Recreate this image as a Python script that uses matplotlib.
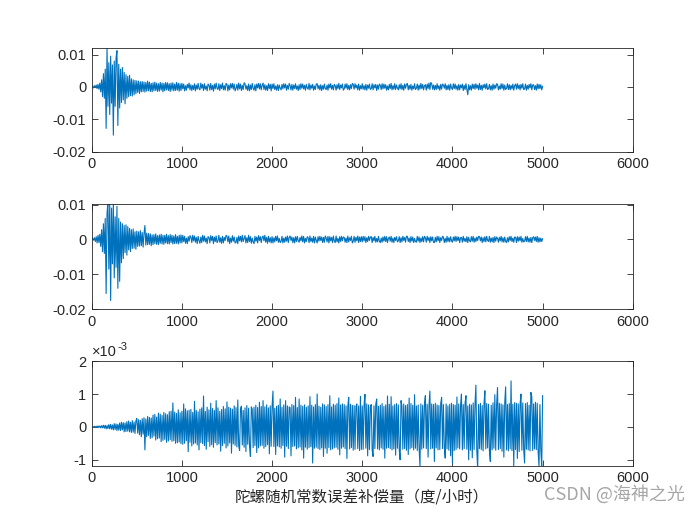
import numpy as np
import matplotlib
matplotlib.use("Agg")
import matplotlib.pyplot as plt

plt.rcParams['font.family'] = ['Liberation Sans', 'DejaVu Sans']
plt.rcParams['axes.unicode_minus'] = False

# signal values, one every 10 samples (0..5000)
# err1, err2 in units of 1e-4; err3 in units of 1e-5
err1 = [0, 2, -3, 4, -2, 6, -5, 8, -7, 12,
        -15, 22, -30, 41, -35, 55, -128, 121, -60, 75,
        -85, 95, -50, 68, -149, 80, -60, 90, 112, -119,
        70, -65, 55, -48, 60, -40, 45, -52, 38, -35,
        33, -30, 36, -27, 25, -28, 22, -24, 20, -21,
        19, -17, 18, -20, 16, -15, 17, -14, 15, -16,
        14, -13, 18, -12, 15, -14, 11, -15, 13, -12,
        15, -11, 12, -14, 10, -13, 14, -10, 12, -15,
        11, -12, 14, -9, 13, -11, 10, -14, 12, -10,
        13, -12, 9, -11, 14, -10, 12, -13, 10, -11,
        11, -6, 9, -12, 4, -10, 8, -3, 12, -9,
        7, -11, 5, -8, 10, -12, 6, -7, 11, -5,
        -9, 12, -4, 8, -11, 10, -7, 3, -12, 9,
        6, -10, 11, -8, 5, -13, 9, -6, 12, -4,
        -8, 10, -11, 7, -5, 12, -9, 4, -10, 11,
        8, -12, 6, -9, 10, -3, 11, -7, 9, -12,
        -5, 8, -10, 12, -6, 9, -11, 5, -8, 13,
        10, -7, 4, -11, 9, -12, 6, -8, 11, -4,
        -10, 7, -12, 9, -3, 11, -6, 10, -9, 5,
        12, -8, 7, -10, 4, -11, 10, -5, 8, -12,
        9, -5, 10, -8, 3, -10, 7, -11, 6, -4,
        -9, 8, -6, 10, -3, 9, -10, 5, -7, 11,
        4, -9, 8, -10, 6, -5, 10, -7, 3, -11,
        7, -8, 10, -4, 9, -6, 5, -10, 8, -3,
        -7, 11, -9, 6, -4, 8, -10, 3, -8, 9,
        10, -6, 5, -9, 7, -11, 4, -7, 9, -5,
        -8, 6, -10, 9, -3, 10, -7, 5, -9, 8,
        4, -10, 7, -5, 11, -8, 6, -3, 9, -10,
        -6, 9, -4, 10, -8, 5, -9, 7, -5, 11,
        8, -7, 10, -3, 6, -9, 9, -10, 4, -6,
        10, -7, 4, -9, 8, -10, 6, -4, 9, -8,
        -5, 10, -9, 7, -3, 8, -11, 6, -7, 9,
        5, -8, 10, -6, 9, -4, 7, -10, 3, -9,
        8, -5, 11, -9, 4, -7, 10, -8, 6, -3,
        -9, 7, -6, 10, -8, 5, -10, 9, -4, 8,
        11, -9, 5, -7, 8, -10, 3, -6, 10, -8,
        -4, 9, -10, 6, -7, 11, -5, 8, -9, 4,
        7, -10, 9, -5, 12, -8, 14, 10, -7, 6,
        -9, 5, -8, 10, -6, 4, -10, 8, -7, 9,
        6, -4, 10, -9, 5, -8, 7, -10, 9, -3,
        -8, 10, -5, 9, -7, 4, -10, 8, -9, 6,
        -3, 9, -11, 5, -8, 10, -6, -24, 7, -9,
        4, -10, 9, -5, 8, -7, 10, -4, 6, -9,
        11, -8, 5, -10, 7, -3, 9, -6, 10, -8,
        -5, 8, -9, 4, -10, 9, -7, 6, -4, 10,
        8, -9, 3, -7, 10, -5, 9, -10, 6, -8,
        -4, 10, -8, 7, -9, 5, -6, 9, -10, 4,
        9, -7, 10, -5, 6, -9, 8, -4, 10, -8,
        -6, 9, -10, 5, -7, 8, -3, 10, -9, 6,
        7, -8, 4, -10, 9, -6, 8, -5, 7, -9,
        2]

err2 = [0, 3, -2, 5, -6, 8, -10, 12, -9, 15,
        -20, 28, -35, 45, -40, 60, -155, 75, 108, -85,
        108, -175, 90, -70, 108, -110, 65, -80, 95, -140,
        60, -120, 50, -67, 45, -55, 40, -38, 42, -45,
        37, -30, 32, -35, 28, -26, 30, -25, 22, -28,
        24, -20, 22, -19, 25, -18, 20, -22, 17, 40,
        -16, 18, -15, 17, -14, 16, -18, 13, -15, 14,
        -12, 16, -14, 11, -15, 13, -11, 15, -13, 12,
        -14, 12, -10, 15, -12, 11, -13, 14, -9, 12,
        -13, 10, -12, 14, -11, 9, -13, 12, -10, 13,
        -10, 12, -6, 9, -11, 4, -12, 8, -5, 11,
        7, -9, 12, -4, 10, -8, 6, -12, 9, -3,
        -11, 7, -9, 12, -5, 10, -7, 4, -12, 8,
        6, -10, 11, -3, 9, -12, 7, -6, 10, -9,
        -4, 12, -8, 5, -11, 9, -10, 6, -3, 12,
        9, -7, 10, -12, 4, -8, 11, -5, 7, -10,
        -9, 6, -12, 10, -4, 9, -7, 12, -6, 3,
        11, -10, 5, -9, 12, -6, 8, -11, 4, -7,
        -12, 9, -5, 7, -10, 11, -3, 8, -9, 6,
        10, -4, 12, -8, 6, -11, 9, -7, 5, -10,
        8, -10, 5, -7, 9, -4, 10, -8, 3, -9,
        -6, 9, -10, 4, -8, 7, -5, 10, -9, 6,
        10, -3, 7, -9, 5, -10, 8, -6, 9, -4,
        -8, 6, -4, 10, -7, 9, -10, 3, -6, 8,
        5, -9, 10, -6, 4, -8, 9, -10, 7, -3,
        -10, 8, -5, 9, -3, 7, -9, 6, -8, 10,
        4, -7, 9, -10, 8, -4, 6, -9, 10, -5,
        -9, 10, -7, 3, -10, 8, -6, 9, -4, 7,
        6, -8, 4, -9, 10, -7, 5, -3, 9, -10,
        -5, 9, -8, 6, -4, 10, -9, 7, -6, 8,
        -7, 9, -4, 8, -9, 5, -6, 9, -3, 7,
        8, -9, 6, -4, 9, -8, 3, -7, 9, -5,
        -9, 4, -8, 7, -5, 9, -6, 8, -9, 3,
        7, -5, 9, -8, 4, -9, 6, -3, 8, -7,
        -4, 8, -9, 5, -7, 9, -3, 6, -8, 9,
        9, -6, 4, -9, 8, -5, 7, -9, 3, -6,
        -8, 9, -5, 7, -9, 4, -6, 8, -7, 9,
        5, -8, 9, -3, 6, -9, 8, -4, 7, -8,
        -9, 6, -7, 9, -4, 8, -9, 5, -3, 9,
        7, -9, 3, -8, 9, -6, 5, -7, 8, -4,
        -8, 7, -4, 9, -6, 8, -3, 7, -9, 5,
        6, -8, 9, -5, 3, -7, 8, -9, 6, -4,
        -7, 8, -5, 9, -8, 4, -6, 7, -3, 9,
        8, -4, 7, -9, 5, -6, 8, -7, 9, -3,
        -6, 9, -8, 4, -7, 6, -9, 8, -5, 7,
        3, -8, 6, -4, 9, -7, 5, -8, 7, -6,
        -9, 5, -7, 8, -3, 9, -6, 4, -8, 7,
        6, -9, 8, -5, 7, -4, 9, -8, 3, -7,
        -5, 8, -6, 9, -7, 4, -8, 6, -9, 5,
        8, -3, 7, -6, 9, -8, 5, -7, 4, -6,
        2]

err3 = [0, 1, -1, 2, -1, 2, -2, 3, -2, 3,
        -3, 4, -3, 5, -4, 5, -6, 4, -5, 7,
        -6, 8, -7, 6, -9, 10, -8, 9, -11, 8,
        -10, 12, -11, 14, -9, 13, -15, 12, -14, 16,
        -13, 18, -15, 14, -17, 19, -16, 15, -20, 18,
        26, -19, 22, -24, 20, -30, 25, -22, 28, -70,
        24, -30, 32, -26, 29, -35, 27, -33, 36, -28,
        38, -40, 30, -36, 42, -34, 39, -45, 35, -41,
        44, -38, 40, -47, 37, -43, 46, -39, 48, -44,
        73, -42, 45, -50, 41, -48, 52, -46, 43, -51,
        48, -53, 70, -50, 55, -42, 49, -75, 51, -47,
        53, -58, 44, -52, 78, -49, 50, -55, 46, -70,
        54, -48, 58, -51, 94, -57, 47, -68, 60, -45,
        52, -59, 72, -54, 56, -62, 50, -48, 80, -55,
        58, -52, 47, -74, 53, -57, 62, -50, 55, -64,
        76, -58, 60, -49, 57, -80, 54, -52, 64, -56,
        59, -61, 82, -58, -72, 56, 63, -55, 50, -62,
        58, -75, 65, -53, 57, -59, -90, 61, 54, -63,
        60, -57, 66, -78, 59, -64, 75, -58, 62, -56,
        80, -65, 61, -60, 67, -54, 58, -82, 64, -59,
        62, 109, -60, 57, -84, 63, -58, 66, -61, 85,
        -65, 60, -57, 67, -92, 80, -59, 64, -66, 61,
        58, -88, 68, -60, 65, -58, 90, -67, 59, -64,
        85, -61, 66, -70, 63, -95, 67, -62, 60, -68,
        64, -63, 92, -60, 66, -110, 61, -65, 68, -62,
        100, -66, 63, -69, 60, -64, 70, -90, 67, -65,
        62, -80, 68, -63, 95, -70, 61, -67, 69, -64,
        66, -62, 71, -68, 88, -85, 67, -65, 70, -61,
        68, -66, 64, -96, 62, 90, -67, 69, -63, 66,
        -71, 65, -68, 62, 70, -66, 64, -72, 93, -69,
        64, -68, 66, 99, -65, 70, -88, 67, -69, 62,
        68, -71, -90, 64, -66, 69, 85, -67, 63, -70,
        66, -64, 71, -68, 62, -95, 67, -65, 94, -63,
        69, -66, 92, -70, 64, -67, 68, -86, 71, -65,
        67, -69, -100, 80, 63, -68, 70, -66, 65, -71,
        68, -84, 88, -67, 71, -63, 66, -70, 98, -65,
        64, -72, 67, -62, -120, 70, -68, 66, -64, 71,
        95, -66, 69, -92, 63, 109, -67, 70, -65, 68,
        -105, 72, -64, 67, -70, 65, -69, 71, 90, -66,
        68, -63, -95, 70, -67, 64, -71, 69, -88, 72,
        -110, 68, -72, 66, -69, 91, -64, 70, -67, 65,
        100, -70, 68, -66, 72, 95, -68, 64, -100, 69,
        -71, 67, -94, 73, -69, 66, 127, -70, -130, 68,
        -66, 72, -69, 65, -73, 70, 110, -67, 71, -64,
        69, -72, -105, 66, -70, 73, -65, 98, -71, 67,
        120, -69, 72, -66, 70, -74, 67, -92, 73, 122,
        -70, 68, -73, 71, -67, 140, -72, 69, -120, 74,
        -69, 72, -96, 70, -75, 68, 100, -71, 73, -67,
        -110, 71, -68, 74, -70, 66, -73, 105, 92, -72,
        70, -67, 75, -69, 72, -74, -120, 68, -71, -120,
        95]

series = [np.array(err1) * 1e-4, np.array(err2) * 1e-4, np.array(err3) * 1e-5]
ylims = [(-0.02, 0.0121), (-0.02, 0.0101), (-0.00118, 0.002)]
yticks = [[-0.02, -0.01, 0, 0.01], [-0.02, -0.01, 0, 0.01], [-0.001, 0, 0.001, 0.002]]
ytick_labels = [['-0.02', '-0.01', '0', '0.01'], ['-0.02', '-0.01', '0', '0.01'], ['-1', '0', '1', '2']]
xticks = [0, 1000, 2000, 3000, 4000, 5000, 6000]

# axes boxes [left, bottom, width, height] in figure fraction
boxes = [[0.131, 0.711, 0.773, 0.198],
         [0.131, 0.411, 0.773, 0.200],
         [0.131, 0.113, 0.773, 0.199]]

fig = plt.figure(figsize=(7, 5.25), dpi=100)
axc = '#262626'
for k in range(3):
    ax = fig.add_axes(boxes[k])
    y = series[k]
    x = np.linspace(0, 5000, len(y))
    ax.plot(x, y, color='#0072BD', linewidth=0.8)
    ax.set_xlim(0, 6000)
    ax.set_ylim(*ylims[k])
    ax.set_xticks(xticks)
    ax.set_xticklabels([str(t) for t in xticks])
    ax.set_yticks(yticks[k])
    ax.set_yticklabels(ytick_labels[k])
    ax.tick_params(direction='in', length=4, width=0.6, top=True, right=True,
                   labelsize=10.5, colors=axc, pad=4)
    for s in ax.spines.values():
        s.set_color(axc)
        s.set_linewidth(0.6)
    if k == 2:
        # exponent label, MATLAB style (offsets in points from the top-left corner)
        ax.annotate('×10', xy=(0, 1), xycoords='axes fraction', xytext=(0.5, 3.6),
                    textcoords='offset points', fontsize=10.5, color=axc,
                    ha='left', va='baseline')
        ax.annotate('-3', xy=(0, 1), xycoords='axes fraction', xytext=(18.5, 8.3),
                    textcoords='offset points', fontsize=8, color=axc,
                    ha='left', va='baseline')
        ax.set_xlabel('陀螺随机常数误差补偿量（度/小时）', fontsize=11.2,
                      family=['Noto Sans CJK SC', 'DejaVu Sans'], color='#262626', labelpad=2)

fig.text(0.979, 0.059, 'CSDN @海神之光', fontsize=13, color='#a6a6a6', ha='right', va='center',
         family=['Noto Sans CJK SC', 'DejaVu Sans'])

fig.savefig('out.png', dpi=100)
